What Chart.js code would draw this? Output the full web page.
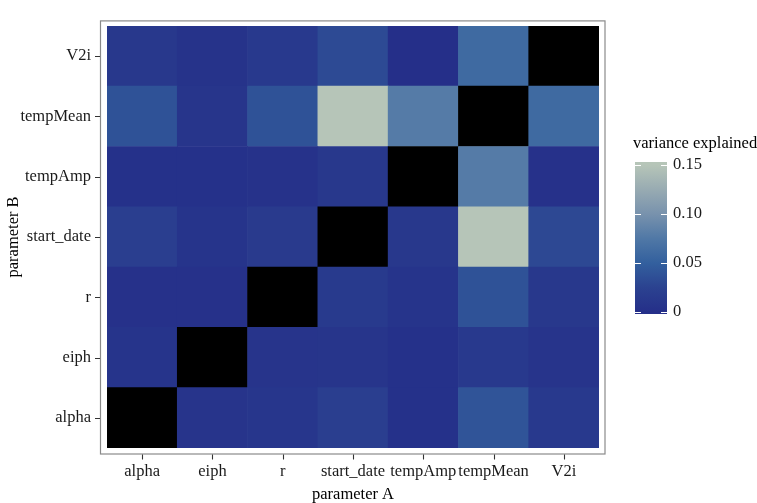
<!DOCTYPE html>
<html>
<head>
<meta charset="utf-8">
<script src="https://cdn.jsdelivr.net/npm/chart.js@4.4.1/dist/chart.umd.min.js"></script>
<style>
  html, body { margin: 0; padding: 0; background: #fff; }
  #wrap { width: 757px; height: 503px; }
</style>
</head>
<body>
<div id="wrap"><canvas id="heat" width="757" height="503"></canvas></div>
<script>
// --- data (rows = parameter B, bottom to top; columns = parameter A) ---
const paramsA = ['alpha', 'eiph', 'r', 'start_date', 'tempAmp', 'tempMean', 'V2i'];
const paramsB = ['alpha', 'eiph', 'r', 'start_date', 'tempAmp', 'tempMean', 'V2i'];

const rowAlpha     = [null,  0.007, 0.009, 0.020, 0.002, 0.040, 0.013];
const rowEiph      = [0.006, null,  0.007, 0.008, 0.002, 0.013, 0.007];
const rowR         = [0.003, 0.003, null,  0.014, 0.006, 0.038, 0.012];
const rowStartDate = [0.020, 0.006, 0.015, null,  0.012, 0.153, 0.030];
const rowTempAmp   = [0.002, 0.002, 0.004, 0.012, null,  0.078, 0.003];
const rowTempMean  = [0.038, 0.008, 0.038, 0.150, 0.078, null,  0.060];
const rowV2i       = [0.012, 0.005, 0.013, 0.032, -0.002, 0.060, null];

const rows = [rowAlpha, rowEiph, rowR, rowStartDate, rowTempAmp, rowTempMean, rowV2i];

const legendTitle = 'variance explained';
const legendBreaks = [0, 0.05, 0.10, 0.15];
const legendLabels = ['0', '0.05', '0.10', '0.15'];

// --- colour scale ---
const stopVals = [0, 0.025, 0.05, 0.075, 0.10, 0.125, 0.15];
const stopCols = [[37,47,137],[43,66,144],[51,96,158],[80,120,166],[120,146,173],[152,171,178],[182,197,184]];

function colourFor(v) {
  if (v === null) return '#000000';
  if (v <= stopVals[0]) return `rgb(${stopCols[0].join(',')})`;
  for (let i = 1; i < stopVals.length; i++) {
    if (v <= stopVals[i]) {
      const t = (v - stopVals[i-1]) / (stopVals[i] - stopVals[i-1]);
      const c = stopCols[i-1].map((a, k) => Math.round(a + (stopCols[i][k] - a) * t));
      return `rgb(${c.join(',')})`;
    }
  }
  return `rgb(${stopCols[stopCols.length-1].join(',')})`;
}

const allVals = rows.flat().filter(v => v !== null);
const cMin = Math.min(...allVals);
const cMax = Math.max(...allVals);

const FONT = 'Liberation Serif';
Chart.defaults.font.family = FONT;
Chart.defaults.font.size = 16.5;
Chart.defaults.color = '#1a1a1a';

// panel border, tick marks and colour bar
const decor = {
  id: 'decor',
  afterDraw(chart) {
    const { ctx, chartArea: a, scales: { x, y } } = chart;
    ctx.save();
    // panel border
    ctx.strokeStyle = '#8a8a8a';
    ctx.lineWidth = 1.2;
    const bl = a.left - 6.5, br = a.right + 6, bt = a.top - 5, bb = a.bottom + 6;
    ctx.strokeRect(bl, bt, br - bl, bb - bt);
    // axis ticks
    ctx.strokeStyle = '#333';
    ctx.lineWidth = 1.1;
    ctx.beginPath();
    paramsA.forEach((_, i) => {
      const px = Math.round(x.getPixelForTick(i)) + 0.5;
      ctx.moveTo(px, bb + 0.5); ctx.lineTo(px, bb + 5.5);
    });
    paramsB.forEach((_, i) => {
      const py = Math.round(y.getPixelForValue(i + 0.5)) + 0.5;
      ctx.moveTo(bl - 0.5, py); ctx.lineTo(bl - 5.5, py);
    });
    ctx.stroke();

    // colour bar legend
    const cbL = 635, cbR = 667, cbT = 162, cbB = 314;
    const yOf = v => cbB - (v - cMin) / (cMax - cMin) * (cbB - cbT);
    const grad = ctx.createLinearGradient(0, cbB, 0, cbT);
    for (let i = 0; i < stopVals.length; i++) {
      const f = (stopVals[i] - cMin) / (cMax - cMin);
      if (f >= 0 && f <= 1) grad.addColorStop(f, `rgb(${stopCols[i].join(',')})`);
    }
    grad.addColorStop(0, colourFor(cMin));
    grad.addColorStop(1, colourFor(cMax));
    ctx.fillStyle = grad;
    ctx.fillRect(cbL, cbT, cbR - cbL, cbB - cbT);
    ctx.strokeStyle = '#ffffff';
    ctx.lineWidth = 1;
    ctx.beginPath();
    legendBreaks.forEach(v => {
      const py = Math.round(yOf(v)) + 0.5;
      ctx.moveTo(cbL, py); ctx.lineTo(cbL + 6, py);
      ctx.moveTo(cbR - 6, py); ctx.lineTo(cbR, py);
    });
    ctx.stroke();
    ctx.fillStyle = '#1a1a1a';
    ctx.font = `16.5px "${FONT}"`;
    ctx.textAlign = 'left';
    ctx.textBaseline = 'middle';
    legendBreaks.forEach((v, i) => ctx.fillText(legendLabels[i], 673, yOf(v)));
    ctx.fillStyle = '#000';
    ctx.textBaseline = 'alphabetic';
    ctx.fillText(legendTitle, 633, 148);
    ctx.restore();
  }
};

new Chart(document.getElementById('heat'), {
  type: 'bar',
  data: {
    labels: paramsA,
    datasets: rows.map((vals, j) => ({
      label: paramsB[j],
      data: vals.map(() => 1),
      backgroundColor: vals.map(colourFor),
      borderWidth: 0,
      barPercentage: 1,
      categoryPercentage: 1
    }))
  },
  options: {
    responsive: false,
    animation: false,
    devicePixelRatio: 1,
    layout: { padding: { left: 0, right: 158, top: 6, bottom: 0 } },
    plugins: { legend: { display: false }, tooltip: { enabled: false } },
    scales: {
      x: {
        stacked: true,
        grid: { display: false, drawTicks: false },
        border: { display: false },
        ticks: { padding: 14, color: '#1a1a1a', maxRotation: 0, autoSkip: false },
        title: { display: true, text: 'parameter A', color: '#000', font: { lineHeight: 1 }, padding: { top: 0, bottom: 0 } },
        afterFit(s) { s.height = 55; }
      },
      y: {
        stacked: true,
        min: 0,
        max: 7,
        grid: { display: false, drawTicks: false },
        border: { display: false },
        afterBuildTicks(s) { s.ticks = paramsB.map((_, i) => ({ value: i + 0.5 })); },
        ticks: { padding: 16, color: '#1a1a1a', callback: v => paramsB[Math.floor(v)] },
        title: { display: true, text: 'parameter B', color: '#000', font: { lineHeight: 1 }, padding: { top: 5, bottom: 0 } },
        afterFit(s) { s.width = 107; }
      }
    }
  },
  plugins: [decor]
});
</script>
</body>
</html>
